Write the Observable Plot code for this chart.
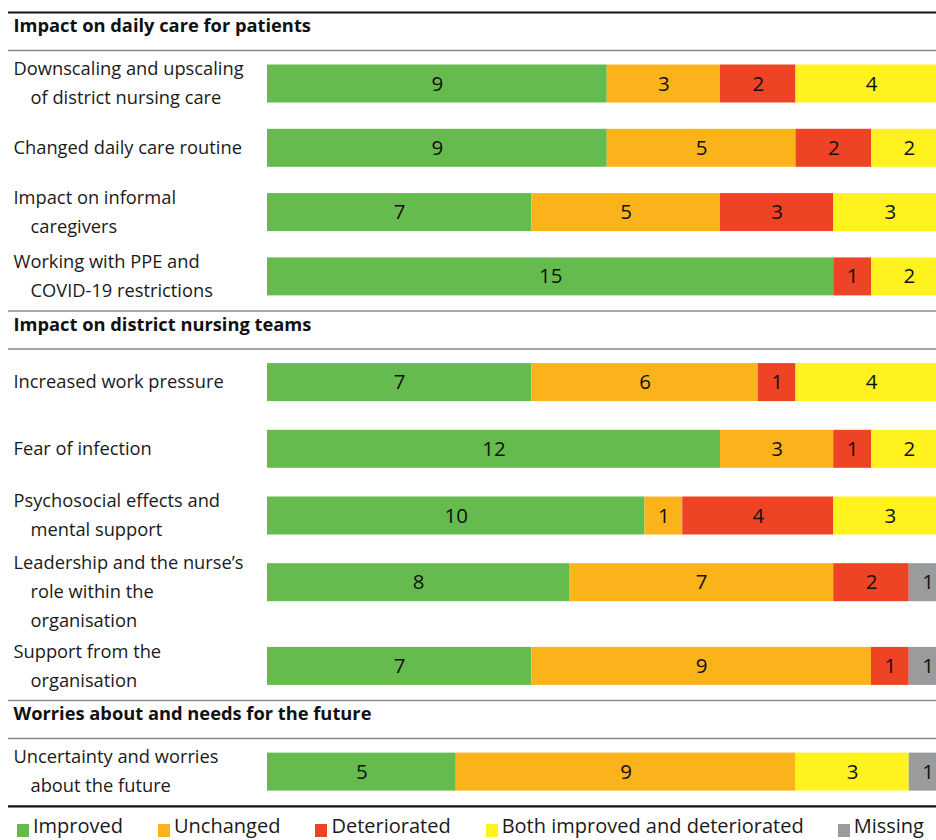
<!DOCTYPE html>
<html>
<head>
<meta charset="utf-8">
<script src="https://cdn.jsdelivr.net/npm/d3@7"></script>
<script src="https://cdn.jsdelivr.net/npm/@observablehq/plot@0.6"></script>
<style>
  html, body { margin: 0; padding: 0; background: #fff; overflow: hidden; }
  body { width: 936px; font-family: "Open Sans", sans-serif; color: #1a1a1a; }
  #legend { display: flex; align-items: center; height: 28px; padding-left: 17px; font-size: 20px; line-height: 28px; white-space: nowrap; }
  #legend .item { display: flex; align-items: center; flex: none; }
  #legend .sw { width: 12px; height: 13px; margin-right: 4px; position: relative; top: 4px; }
</style>
</head>
<body>
<div id="chart"></div>
<div id="legend"></div>
<script>
// ---- Data ----
const sections = [
  "Impact on daily care for patients",
  "Impact on district nursing teams",
  "Worries about and needs for the future"
];
const rowLabels = [
  "Downscaling and upscaling\nof district nursing care",
  "Changed daily care routine",
  "Impact on informal\ncaregivers",
  "Working with PPE and\nCOVID-19 restrictions",
  "Increased work pressure",
  "Fear of infection",
  "Psychosocial effects and\nmental support",
  "Leadership and the nurse’s\nrole within the\norganisation",
  "Support from the\norganisation",
  "Uncertainty and worries\nabout the future"
];
const rowSection = [0, 0, 0, 0, 1, 1, 1, 1, 1, 2];
const categories = ["Improved", "Unchanged", "Deteriorated", "Both improved and deteriorated", "Missing"];
const improved     = [9, 9, 7, 15, 7, 12, 10, 8, 7, 5];
const unchanged    = [3, 5, 5, 0, 6, 3, 1, 7, 9, 9];
const deteriorated = [2, 2, 3, 1, 1, 1, 4, 2, 1, 0];
const both         = [4, 2, 3, 2, 4, 2, 3, 0, 0, 3];
const missing      = [0, 0, 0, 0, 0, 0, 0, 1, 1, 1];
const colors = ["#66bb4f", "#fbb31b", "#ef4326", "#fff21e", "#999b9c"];

// ---- Layout (pixel units on an identity y scale) ----
const W = 936, H = 812;
const lineGap = 29, sectionPitch = [64.3, 66.7, 66], extraPitch = 17, barH = 38;
const rules = [];
const headers = [];
const rowY = [];
let y = 12;
rules.push({y, kind: "thick"});
sections.forEach((s, si) => {
  if (si > 0) rules.push({y, kind: "thin"});
  headers.push({y: y + 14, text: s});
  y += 38;
  rules.push({y, kind: "thin"});
  const idx = rowSection.map((d, i) => d === si ? i : -1).filter(i => i >= 0);
  y += 33.5;
  idx.forEach((ri, k) => {
    rowY[ri] = y;
    const n = rowLabels[ri].split("\n").length;
    if (k < idx.length - 1) y += sectionPitch[si] + (n > 2 ? extraPitch : 0);
  });
  y += 34.2;
});
rules.push({y, kind: "thick"});

// long-format stacked segments
const series = [improved, unchanged, deteriorated, both, missing];
const segs = [];
rowLabels.forEach((lab, ri) => {
  let acc = 0;
  categories.forEach((c, ci) => {
    const v = series[ci][ri];
    if (v > 0) segs.push({row: ri, cat: c, value: v, x1: acc, x2: acc + v, yc: rowY[ri]});
    acc += v;
  });
});

// label lines
const labelLines = [];
rowLabels.forEach((lab, ri) => {
  const parts = lab.split("\n");
  const n = parts.length;
  const first = -14.5 * (Math.min(n, 2) - 1) - (n > 2 ? 5.5 : 0);
  parts.forEach((t, li) => labelLines.push({text: t, li, y: rowY[ri] + first + li * lineGap}));
});

const labelFont = 18.3;
const plot = Plot.plot({
  width: W,
  height: H,
  marginLeft: 0, marginRight: 0, marginTop: 0, marginBottom: 0,
  style: {fontFamily: "Open Sans, sans-serif", background: "#fff", color: "#1a1a1a"},
  x: {domain: [0, 18], range: [267, 946.5], axis: null},
  y: {domain: [0, H], range: [0, H], axis: null},
  color: {domain: categories, range: colors},
  marks: [
    Plot.ruleY(rules.filter(d => d.kind === "thick"), {y: "y", stroke: "#111", strokeWidth: 2.2, insetLeft: 8}),
    Plot.ruleY(rules.filter(d => d.kind === "thin"), {y: "y", stroke: "#8a8a8a", strokeWidth: 1.5, insetLeft: 8}),
    Plot.text(headers, {y: "y", text: "text", frameAnchor: "left", dx: 13, textAnchor: "start", fontSize: labelFont, fontWeight: "bold", fill: "#111"}),
    Plot.text(labelLines.filter(d => d.li === 0), {y: "y", text: "text", frameAnchor: "left", dx: 13, textAnchor: "start", fontSize: labelFont, fill: "#1a1a1a"}),
    Plot.text(labelLines.filter(d => d.li > 0), {y: "y", text: "text", frameAnchor: "left", dx: 30, textAnchor: "start", fontSize: labelFont, fill: "#1a1a1a"}),
    Plot.rectX(segs, {x1: "x1", x2: "x2", y1: d => d.yc - barH / 2, y2: d => d.yc + barH / 2, fill: "cat"}),
    Plot.text(segs, {x: d => (d.x1 + d.x2) / 2, y: "yc", text: d => String(d.value), fontSize: 20.5, fill: "#111"})
  ]
});
document.getElementById("chart").appendChild(plot);

// legend from the plot's color scale
const cs = plot.scale("color");
const legend = document.getElementById("legend");
const gaps = [35, 35, 35, 34, 0];
cs.domain.forEach((c, i) => {
  const item = document.createElement("div");
  item.className = "item";
  item.style.marginRight = gaps[i] + "px";
  const sw = document.createElement("span");
  sw.className = "sw";
  sw.style.background = cs.range[i];
  const t = document.createElement("span");
  t.textContent = c;
  item.appendChild(sw);
  item.appendChild(t);
  legend.appendChild(item);
});
</script>
</body>
</html>
